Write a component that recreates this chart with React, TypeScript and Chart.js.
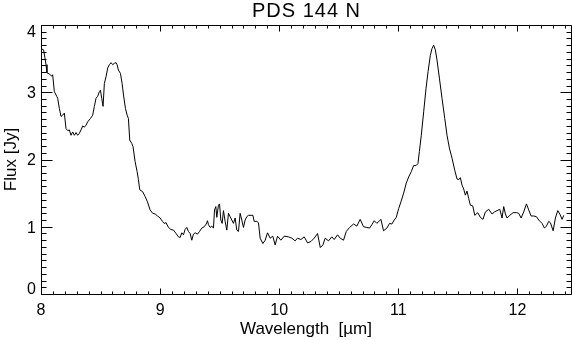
import React, { useEffect, useRef } from 'react';
import { Chart, registerables } from 'chart.js';

Chart.register(...registerables);

const chartTitle = 'PDS 144 N';
const xAxisTitle = 'Wavelength  [\u00b5m]';
const yAxisTitle = 'Flux [Jy]';
const xTickValues = [8, 9, 10, 11, 12];
const yTickValues = [0, 1, 2, 3, 4];
const xRange = [8, 12.45];
const yRange = [0, 4];

const wavelength = [
  8.000, 8.022, 8.034, 8.042, 8.050, 8.070, 8.090, 8.098, 8.112, 8.132,
  8.140, 8.154, 8.168, 8.182, 8.196, 8.210, 8.224, 8.238, 8.252, 8.266,
  8.280, 8.294, 8.308, 8.322, 8.336, 8.350, 8.364, 8.378, 8.392, 8.415,
  8.434, 8.448, 8.462, 8.476, 8.490, 8.499, 8.510, 8.521, 8.532, 8.546,
  8.560, 8.574, 8.588, 8.602, 8.616, 8.630, 8.639, 8.650, 8.667, 8.681,
  8.695, 8.709, 8.723, 8.734, 8.745, 8.762, 8.773, 8.790, 8.807, 8.818,
  8.829,
  8.854, 8.874, 8.894, 8.916, 8.938, 8.958, 8.978, 9.000, 9.020, 9.034,
  9.050, 9.070, 9.090, 9.112, 9.134, 9.154, 9.168, 9.182, 9.196, 9.210,
  9.224, 9.238, 9.252, 9.266, 9.280, 9.294, 9.314, 9.331, 9.350, 9.370,
  9.387, 9.398, 9.406, 9.420, 9.434, 9.448, 9.457, 9.468, 9.476, 9.490,
  9.499, 9.510, 9.521, 9.532, 9.546, 9.560, 9.574, 9.588, 9.602, 9.616,
  9.630, 9.644, 9.658, 9.672, 9.686, 9.700, 9.714, 9.728, 9.742, 9.779,
  9.790, 9.812, 9.826, 9.840, 9.863, 9.882, 9.902,
  9.924, 9.946, 9.966, 9.986, 10.014, 10.042, 10.078, 10.106, 10.134, 10.154,
  10.182, 10.210, 10.238, 10.266, 10.294, 10.322, 10.345, 10.367, 10.386, 10.414,
  10.442, 10.462, 10.490, 10.512, 10.540, 10.563, 10.591, 10.624, 10.652, 10.680,
  10.708, 10.736, 10.759, 10.778, 10.798, 10.820, 10.854, 10.876, 10.904, 10.927,
  10.946, 10.966, 10.983, 11.003, 11.022, 11.045, 11.067, 11.087,
  11.109, 11.129, 11.149, 11.165, 11.177, 11.193, 11.213, 11.233, 11.250, 11.269,
  11.283, 11.297, 11.311, 11.325, 11.345, 11.367, 11.390, 11.409, 11.429, 11.451,
  11.474, 11.493, 11.507, 11.521, 11.535, 11.549, 11.563, 11.577, 11.591, 11.605,
  11.625, 11.642,
  11.667, 11.689, 11.711, 11.731, 11.759, 11.787, 11.807, 11.829, 11.852, 11.871,
  11.885, 11.899, 11.913, 11.936, 11.964, 11.992, 12.011, 12.031, 12.053, 12.076,
  12.095, 12.115, 12.137, 12.160, 12.179, 12.207, 12.227, 12.244, 12.263, 12.277,
  12.300, 12.319, 12.339, 12.356, 12.375, 12.389,
];

const flux = [
  3.65, 3.63, 3.50, 3.41, 3.29, 3.27, 3.24, 3.26, 3.01, 2.94,
  2.91, 2.76, 2.64, 2.66, 2.69, 2.46, 2.43, 2.44, 2.36, 2.41,
  2.36, 2.40, 2.36, 2.39, 2.44, 2.50, 2.48, 2.51, 2.56, 2.61,
  2.66, 2.79, 2.91, 2.94, 3.01, 3.03, 2.91, 2.79, 3.13, 3.23,
  3.36, 3.41, 3.44, 3.41, 3.43, 3.44, 3.41, 3.33, 3.28, 3.13,
  2.93, 2.76, 2.66, 2.61, 2.29, 2.24, 2.19, 1.97, 1.82, 1.70,
  1.55,
  1.52, 1.45, 1.37, 1.25, 1.20, 1.19, 1.16, 1.13, 1.08, 1.05,
  1.06, 0.99, 0.96, 0.95, 0.90, 0.85, 0.84, 0.91, 0.88, 0.96,
  0.99, 0.93, 0.90, 0.80, 0.89, 0.91, 0.89, 0.93, 0.98, 1.00,
  1.04, 1.09, 1.03, 0.99, 1.01, 0.98, 1.25, 1.30, 1.14, 1.32,
  1.34, 1.10, 1.05, 1.24, 1.08, 0.95, 1.20, 1.15, 1.10, 1.05,
  1.13, 0.95, 0.93, 1.20, 1.10, 0.99, 1.10, 1.15, 1.17, 1.17,
  1.08, 1.08, 1.06, 0.83, 0.75, 0.80, 0.91,
  0.83, 0.86, 0.73, 0.86, 0.80, 0.86, 0.85, 0.83, 0.79, 0.83,
  0.81, 0.85, 0.76, 0.78, 0.83, 0.90, 0.69, 0.73, 0.83, 0.79,
  0.85, 0.81, 0.88, 0.83, 0.80, 0.93, 0.99, 1.04, 1.01, 1.11,
  1.00, 0.99, 0.98, 1.03, 1.09, 1.05, 1.11, 0.94, 0.98, 1.05,
  1.04, 1.10, 1.14, 1.27, 1.37, 1.50, 1.65, 1.74,
  1.82, 1.91, 1.91, 1.94, 2.12, 2.36, 2.71, 3.06, 3.31, 3.55,
  3.65, 3.70, 3.63, 3.48, 3.21, 2.91, 2.61, 2.36, 2.17, 2.02,
  1.84, 1.71, 1.70, 1.73, 1.62, 1.56, 1.47, 1.53, 1.42, 1.32,
  1.31, 1.17,
  1.21, 1.14, 1.11, 1.22, 1.26, 1.19, 1.22, 1.24, 1.26, 1.13,
  1.30, 1.19, 1.13, 1.17, 1.21, 1.21, 1.20, 1.13, 1.22, 1.34,
  1.25, 1.16, 1.16, 1.15, 1.10, 1.05, 0.98, 1.01, 1.08, 1.06,
  0.94, 1.13, 1.24, 1.19, 1.11, 1.17,
];

const FONT = '"Liberation Sans", Arial, Helvetica, sans-serif';

const idlFrame = {
  id: 'idlFrame',
  afterDraw(chart: any) {
    const { ctx, chartArea: a, scales } = chart;
    const xs = scales.x;
    const ys = scales.y;
    const L = Math.round(a.left) + 0.5;
    const R = Math.round(a.right) + 0.5;
    const T = Math.round(a.top) + 0.5;
    const B = Math.round(a.bottom) + 0.5;
    ctx.save();
    ctx.strokeStyle = '#000';
    ctx.lineWidth = 1;
    ctx.beginPath();
    ctx.moveTo(L, T); ctx.lineTo(R, T); ctx.lineTo(R, B); ctx.lineTo(L, B); ctx.closePath();
    // x ticks (top and bottom)
    for (let i = Math.round(xRange[0] * 10); i <= Math.floor(xRange[1] * 10); i++) {
      const px = Math.round(xs.getPixelForValue(i / 10)) + 0.5;
      const len = i % 10 === 0 ? 6 : 3;
      ctx.moveTo(px, B); ctx.lineTo(px, B - len);
      ctx.moveTo(px, T); ctx.lineTo(px, T + len);
    }
    // y ticks (left and right)
    for (let i = Math.round(yRange[0] * 10); i <= Math.round(yRange[1] * 10); i++) {
      const py = Math.round(ys.getPixelForValue(i / 10)) + 0.5;
      const len = i % 10 === 0 ? 11 : 5;
      ctx.moveTo(L, py); ctx.lineTo(L + len, py);
      ctx.moveTo(R, py); ctx.lineTo(R - len, py);
    }
    ctx.stroke();

    ctx.fillStyle = '#000';
    // y tick labels, kept inside the frame like IDL does
    ctx.font = `16px ${FONT}`;
    ctx.textAlign = 'right';
    ctx.textBaseline = 'alphabetic';
    const cap = 11.5;
    for (const v of yTickValues) {
      const py = ys.getPixelForValue(v);
      let base = py + cap / 2;
      if (base > a.bottom) base = a.bottom;
      if (base - cap < a.top) base = a.top + cap;
      ctx.fillText(String(v), a.left - 5, base);
    }
    // title
    ctx.textAlign = 'center';
    ctx.font = `20px ${FONT}`;
    (ctx as any).letterSpacing = '1px';
    ctx.fillText(chartTitle, (a.left + a.right) / 2 + 0.5, 17);
    (ctx as any).letterSpacing = '0px';
    // x title
    ctx.font = `17px ${FONT}`;
    ctx.fillText(xAxisTitle, (a.left + a.right) / 2, 334);
    // y title
    ctx.save();
    ctx.translate(16, (a.top + a.bottom) / 2);
    ctx.rotate(-Math.PI / 2);
    ctx.fillText(yAxisTitle, 0, 0);
    ctx.restore();
    ctx.restore();
  },
};

export default function App() {
  const canvasRef = useRef<HTMLCanvasElement | null>(null);

  useEffect(() => {
    const canvas = canvasRef.current;
    if (!canvas) return;
    const points = wavelength.map((w, i) => ({ x: w, y: flux[i] }));
    const chart = new Chart(canvas, {
      type: 'line',
      data: {
        datasets: [
          {
            data: points,
            borderColor: '#000',
            borderWidth: 1,
            pointRadius: 0,
            tension: 0,
            fill: false,
          },
        ],
      },
      options: {
        animation: false,
        responsive: false,
        devicePixelRatio: 1,
        layout: { padding: { top: 25, right: 1, left: 0, bottom: 0 } },
        plugins: { legend: { display: false }, tooltip: { enabled: false }, title: { display: false } },
        scales: {
          x: {
            type: 'linear',
            min: xRange[0],
            max: xRange[1],
            grid: { display: false, drawTicks: false, tickLength: 0 },
            border: { display: false },
            ticks: {
              color: '#000',
              font: { family: FONT, size: 16 },
              padding: 7,
              maxRotation: 0,
              autoSkip: false,
            },
            afterBuildTicks: (s: any) => {
              s.ticks = xTickValues.map((v) => ({ value: v }));
            },
            afterFit: (s: any) => {
              s.height = 46;
            },
          },
          y: {
            type: 'linear',
            min: yRange[0],
            max: yRange[1],
            grid: { display: false, drawTicks: false, tickLength: 0 },
            border: { display: false },
            ticks: { display: false },
            afterBuildTicks: (s: any) => {
              s.ticks = yTickValues.map((v) => ({ value: v }));
            },
            afterFit: (s: any) => {
              s.width = 41;
            },
          },
        },
      },
      plugins: [idlFrame],
    });
    return () => chart.destroy();
  }, []);

  return (
    <div style={{ position: 'absolute', left: 0, top: 0, width: 572, height: 340, background: '#fff' }}>
      <canvas ref={canvasRef} width={572} height={340} style={{ width: 572, height: 340, display: 'block' }} />
    </div>
  );
}
